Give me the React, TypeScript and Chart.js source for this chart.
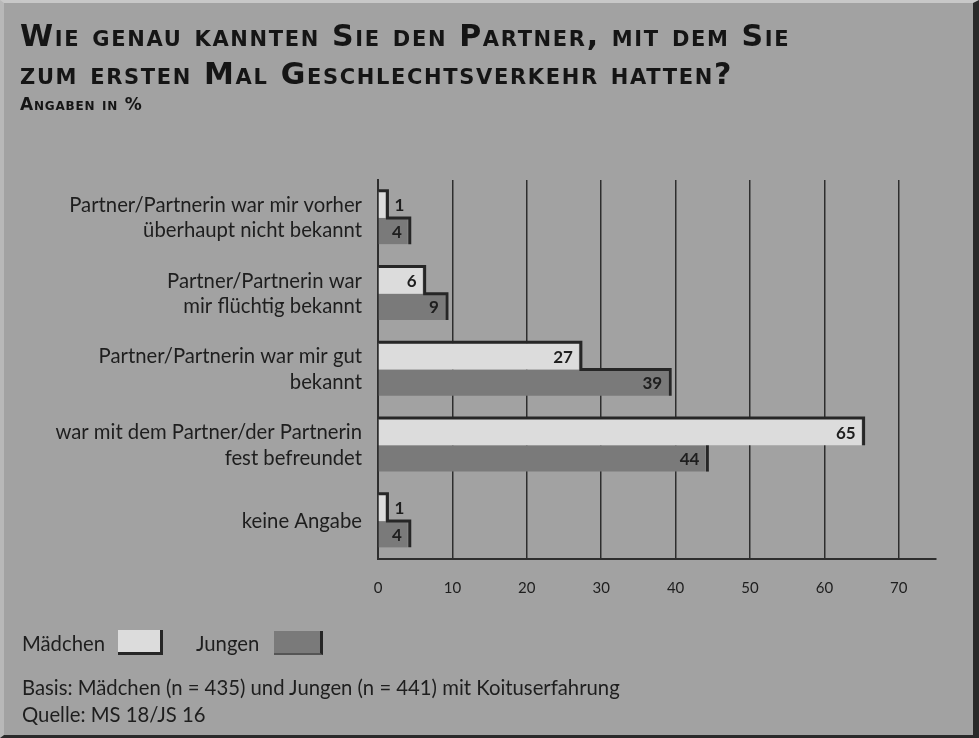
import React, { useEffect, useRef } from "react";
import { Chart, registerables } from "chart.js";

Chart.register(...registerables);

const categories: string[][] = [
  ["Partner/Partnerin war mir vorher", "überhaupt nicht bekannt"],
  ["Partner/Partnerin war", "mir flüchtig bekannt"],
  ["Partner/Partnerin war mir gut", "bekannt"],
  ["war mit dem Partner/der Partnerin", "fest befreundet"],
  ["keine Angabe"],
];
const maedchen: number[] = [1, 6, 27, 65, 1];
const jungen: number[] = [4, 9, 39, 44, 4];
const xTicks: number[] = [0, 10, 20, 30, 40, 50, 60, 70];

const BG = "#a2a2a2";
const LIGHT = "#dcdcdc";
const DARK = "#7a7a7a";
const INK = "#262626";
const FONT = "Lato, 'Noto Sans', sans-serif";
const TITLE_FONT = "'DejaVu Sans', sans-serif";

const outlinePlugin = {
  id: "outline",
  afterDatasetsDraw(chart: any) {
    const ctx = chart.ctx;
    const m0 = chart.getDatasetMeta(0);
    const m1 = chart.getDatasetMeta(1);
    ctx.save();
    ctx.strokeStyle = INK;
    ctx.lineWidth = 3;
    ctx.lineCap = "butt";
    ctx.lineJoin = "miter";
    for (let i = 0; i < m0.data.length; i++) {
      const a: any = m0.data[i];
      const b: any = m1.data[i];
      const aTop = a.y - a.height / 2;
      const aBot = a.y + a.height / 2;
      const bTop = b.y - b.height / 2;
      const bBot = b.y + b.height / 2;
      const ax = a.x + 2;
      const bx = b.x + 2;
      ctx.beginPath();
      ctx.moveTo(a.base, aTop - 1);
      ctx.lineTo(ax, aTop - 1);
      if (bx > ax) {
        ctx.lineTo(ax, bTop);
        ctx.lineTo(bx, bTop);
        ctx.lineTo(bx, bBot);
      } else {
        ctx.lineTo(ax, aBot);
      }
      ctx.stroke();
      if (bx <= ax) {
        ctx.beginPath();
        ctx.moveTo(bx, bTop);
        ctx.lineTo(bx, bBot);
        ctx.stroke();
      }
    }
    // value labels
    ctx.fillStyle = "#1e1e1e";
    ctx.font = `bold 17px ${FONT}`;
    ctx.textBaseline = "middle";
    [m0, m1].forEach((meta: any, di: number) => {
      const vals = di === 0 ? maedchen : jungen;
      meta.data.forEach((el: any, i: number) => {
        const v = vals[i];
        if (v < 3) {
          ctx.textAlign = "left";
          ctx.fillText(String(v), el.x + 9, el.y + 1);
        } else {
          ctx.textAlign = "right";
          ctx.fillText(String(v), el.x - 6, el.y + 1);
        }
      });
    });
    ctx.restore();
  },
};

export default function App() {
  const ref = useRef<HTMLCanvasElement | null>(null);
  useEffect(() => {
    document.body.style.margin = "0";
    if (!ref.current) return;
    const chart = new Chart(ref.current, {
      type: "bar",
      data: {
        labels: categories as any,
        datasets: [
          {
            label: "Mädchen",
            data: maedchen,
            backgroundColor: LIGHT,
            borderWidth: 0,
            categoryPercentage: 0.693,
            barPercentage: 1,
          },
          {
            label: "Jungen",
            data: jungen,
            backgroundColor: DARK,
            borderWidth: 0,
            categoryPercentage: 0.693,
            barPercentage: 1,
          },
        ],
      },
      options: {
        indexAxis: "y",
        animation: false,
        responsive: false,
        maintainAspectRatio: false,
        layout: { padding: { left: 0, right: 43, top: 180, bottom: 0 } },
        plugins: {
          legend: { display: false },
          tooltip: { enabled: false },
          title: { display: false },
        },
        scales: {
          x: {
            type: "linear",
            min: 0,
            max: 75,
            afterBuildTicks: (scale: any) => {
              scale.ticks = xTicks.map((v) => ({ value: v }));
            },
            afterFit: (scale: any) => {
              scale.height = 179;
            },
            grid: {
              color: "#2e2e2e",
              lineWidth: 1.5,
              drawTicks: false,
            },
            border: { display: true, color: "#2e2e2e", width: 2 },
            ticks: {
              color: "#1e1e1e",
              font: { family: FONT, size: 15 },
              padding: 20,
            },
          },
          y: {
            type: "category",
            afterFit: (scale: any) => {
              scale.width = 378;
            },
            grid: { display: false, drawTicks: false },
            border: { display: true, color: "#2e2e2e", width: 2 },
            ticks: {
              color: "#1e1e1e",
              font: { family: FONT, size: 20.3, lineHeight: 1.25 },
              padding: 16,
            },
          },
        },
      },
      plugins: [outlinePlugin],
    });
    return () => chart.destroy();
  }, []);

  const text: React.CSSProperties = {
    position: "absolute",
    fontFamily: FONT,
    color: "#1e1e1e",
    whiteSpace: "nowrap",
  };

  return (
    <div
      style={{
        position: "relative",
        width: 979,
        height: 738,
        background: BG,
        overflow: "hidden",
        boxSizing: "border-box",
        borderRight: "6px solid #2a2a2a",
        borderBottom: "3px solid #2a2a2a",
        borderTop: "3px solid #c8c8c8",
        borderLeft: "4px solid #b8b8b8",
      }}
    >
      <canvas
        ref={ref}
        width={979}
        height={738}
        style={{ position: "absolute", left: -4, top: -3, width: 979, height: 738 }}
      />
      <div
        style={{
          ...text,
          left: 16,
          top: 14,
          fontFamily: TITLE_FONT,
          fontWeight: 700,
          fontVariant: "small-caps",
          fontSize: 30,
          letterSpacing: "1.65px",
          lineHeight: "38px",
          color: "#151515",
        }}
      >
        Wie genau kannten Sie den Partner, mit dem Sie
        <br />
        zum ersten Mal Geschlechtsverkehr hatten?
      </div>
      <div
        style={{
          ...text,
          left: 16,
          top: 91,
          fontFamily: TITLE_FONT,
          fontWeight: 700,
          fontVariant: "small-caps",
          fontSize: 17,
          letterSpacing: "0.8px",
          color: "#151515",
        }}
      >
        Angaben in %
      </div>
      <div style={{ ...text, left: 18, top: 627, fontSize: 20.3, display: "flex", alignItems: "center" }}>
        <span>Mädchen</span>
        <span
          style={{
            display: "inline-block",
            width: 42,
            height: 22,
            marginLeft: 13,
            background: LIGHT,
            borderRight: "3px solid " + INK,
            borderBottom: "3px solid " + INK,
          }}
        />
        <span style={{ marginLeft: 33 }}>Jungen</span>
        <span
          style={{
            display: "inline-block",
            width: 46,
            height: 22,
            marginLeft: 15,
            background: DARK,
            borderRight: "3px solid " + INK,
            borderBottom: "2px solid #555",
          }}
        />
      </div>
      <div style={{ ...text, left: 18, top: 671, fontSize: 20.3, lineHeight: "27px" }}>
        Basis: Mädchen (n = 435) und Jungen (n = 441) mit Koituserfahrung
        <br />
        Quelle: MS 18/JS 16
      </div>
    </div>
  );
}
